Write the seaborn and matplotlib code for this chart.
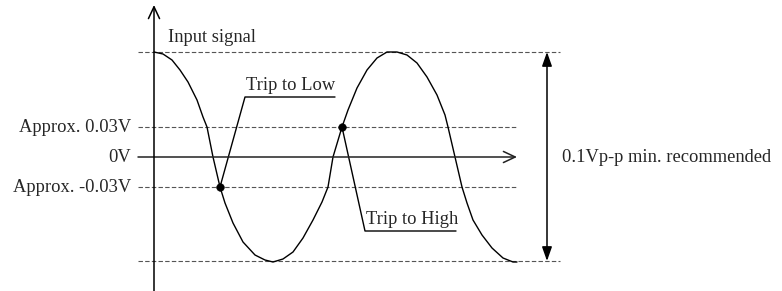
import matplotlib
matplotlib.use("Agg")
import matplotlib.pyplot as plt
import pandas as pd
import seaborn as sns

# diagram is schematic: coordinates (pixels, y grows downward)
wave_x = [154, 163, 172, 180, 188, 197, 203, 207, 213, 220, 225, 233, 243,
          255, 265, 273, 283, 293, 303, 313, 322, 328, 333, 342, 348, 357,
          367, 377, 387, 397, 407, 417, 427, 437, 445, 448, 455, 462, 467,
          473, 482, 492, 503, 513, 517]
wave_y = [52, 54, 60, 70, 82, 100, 117, 127, 157, 187, 203, 223, 242,
          255, 260, 262, 259, 252, 238, 220, 202, 187, 157, 127, 110, 88,
          70, 58, 52, 52, 55, 63, 77, 95, 115, 127, 157, 187, 203,
          220, 235, 248, 258, 262, 262]

level_y = [52, 127, 157, 187, 261]
level_labels = ["", "Approx. 0.03V", "0V", "Approx. -0.03V", ""]
level_end = [560, 516, 516, 516, 560]

trip_points_x = [220, 342]
trip_points_y = [187, 127]
trip_labels = ["Trip to Low", "Trip to High"]
trip_elbow_x = [245, 365]
trip_elbow_y = [97, 231]
trip_line_end = [335, 456]

wave = pd.DataFrame({"x": wave_x, "y": wave_y})

sns.set_style("white")
plt.rcParams["font.family"] = ["Liberation Serif", "DejaVu Serif"]

fig = plt.figure(figsize=(7.82, 2.91), dpi=100)
ax = fig.add_axes([0, 0, 1, 1])
ax.set_xlim(0, 782)
ax.set_ylim(291, 0)
ax.axis("off")

fs = 13.3

# reference levels
for y, lab, x_end in zip(level_y, level_labels, level_end):
    if lab == "0V":
        ax.annotate("", xy=(x_end + 1, y), xytext=(138, y),
                    arrowprops=dict(arrowstyle="->,head_length=0.85,head_width=0.4",
                                    lw=1.1, color="#222222", shrinkA=0, shrinkB=0,
                                    mutation_scale=10))
    else:
        ax.plot([138, x_end], [y, y], color="#555555", lw=0.8, ls=(0, (4, 2)))
    if lab:
        ax.text(131, y, lab, ha="right", va="center", fontsize=fs)

# vertical axis
ax.annotate("", xy=(154, 5), xytext=(154, 291),
            arrowprops=dict(arrowstyle="->,head_length=0.85,head_width=0.4",
                            lw=1.1, color="black", shrinkA=0, shrinkB=0,
                            mutation_scale=10))
ax.text(168, 37, "Input signal", ha="left", va="center", fontsize=fs)

# waveform
sns.lineplot(data=wave, x="x", y="y", ax=ax, color="black", lw=1.0,
             estimator=None, sort=False)

# trip points with leader lines
for px, py, lab, ex, ey, lx in zip(trip_points_x, trip_points_y, trip_labels,
                                   trip_elbow_x, trip_elbow_y, trip_line_end):
    ax.plot([px, ex, lx], [py, ey, ey], color="black", lw=1.0)
    ax.text(ex + 1, ey - 3, lab, ha="left", va="bottom", fontsize=fs)
sns.scatterplot(x=trip_points_x, y=trip_points_y, ax=ax, color="black",
                s=30, edgecolor="black", zorder=5)

# peak-to-peak span
ax.annotate("", xy=(547, level_y[0]), xytext=(547, level_y[-1]),
            arrowprops=dict(arrowstyle="<|-|>,head_length=0.85,head_width=0.3",
                            lw=1.1, color="black", shrinkA=0, shrinkB=0,
                            mutation_scale=10))
ax.text(562, 157, "0.1Vp-p min. recommended", ha="left", va="center", fontsize=fs)

fig.savefig("out.png", dpi=100)
